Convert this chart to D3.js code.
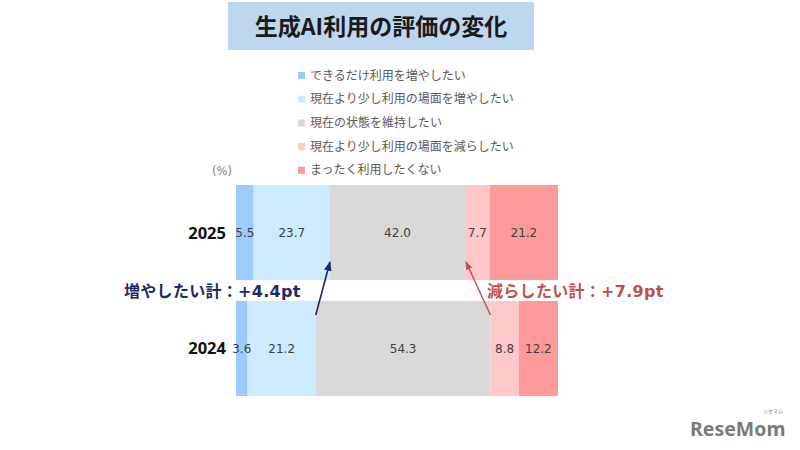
<!DOCTYPE html>
<html><head><meta charset="utf-8">
<script src="https://cdn.jsdelivr.net/npm/d3@7"></script>
<style>body{margin:0;background:#fff}svg{display:block}</style>
</head><body><svg id="c" width="800" height="450" font-family="'DejaVu Sans','Noto Sans CJK JP',sans-serif"></svg>
<script>
const years = ["2025", "2024"];
const categories = ["できるだけ利用を増やしたい","現在より少し利用の場面を増やしたい","現在の状態を維持したい","現在より少し利用の場面を減らしたい","まったく利用したくない"];
const values2025 = [5.5, 23.7, 42.0, 7.7, 21.2];
const values2024 = [3.6, 21.2, 54.3, 8.8, 12.2];
const colors = ["#9ecbfd","#cdeafe","#d9d9d9","#fec8c8","#fe9a9a"];
const annotations = ["増やしたい計：+4.4pt","減らしたい計：+7.9pt"];

const svg = d3.select("#c");
const seriesByYear = {"2025": values2025, "2024": values2024};
const cjk = "'Noto Sans CJK JP',sans-serif";

// title
svg.append("rect").attr("x",228).attr("y",2).attr("width",306).attr("height",48).attr("fill","#bdd7ee");
svg.append("text").attr("x",381).attr("y",35).attr("text-anchor","middle").attr("font-family",cjk)
  .attr("font-size",23).attr("font-weight","bold").attr("fill","#1a1a1a").text("生成AI利用の評価の変化");

// legend
const lg = svg.append("g");
categories.forEach((c,i)=>{
  const y = 75 + i*23.7;
  lg.append("rect").attr("x",298).attr("y",y-3).attr("width",7).attr("height",7).attr("fill",colors[i]);
  lg.append("text").attr("x",310).attr("y",y+4.5).attr("font-size",12).attr("font-family",cjk).attr("fill","#595959").text(c);
});

const x = d3.scaleLinear().domain([0,100.1]).range([236,558]);
const y = d3.scaleBand().domain(years).range([185,396]).paddingInner(0.18).paddingOuter(0);

svg.append("text").attr("x",232).attr("y",175).attr("text-anchor","end").attr("font-size",11.5).attr("fill","#7f7f7f").text("(%)");

years.forEach(yr=>{
  const vals = seriesByYear[yr];
  let cum = 0;
  const segs = vals.map((v,i)=>{const s={v,i,x0:cum,x1:cum+v}; cum+=v; return s;});
  const g = svg.append("g");
  g.selectAll("rect").data(segs).join("rect")
    .attr("x",d=>x(d.x0)).attr("width",d=>x(d.x1)-x(d.x0))
    .attr("y",y(yr)).attr("height",y.bandwidth())
    .attr("fill",d=>colors[d.i]);
  g.selectAll("text").data(segs).join("text")
    .attr("x",d=>(x(d.x0)+x(d.x1))/2).attr("y",y(yr)+y.bandwidth()/2+4.5)
    .attr("text-anchor","middle").attr("font-size",12).attr("fill","#404040")
    .text(d=>d.v.toFixed(1));
  svg.append("text").attr("x",226).attr("y",y(yr)+y.bandwidth()/2+6)
    .attr("text-anchor","end").attr("font-size",16.5).attr("font-weight","bold").attr("fill","#111")
    .attr("font-family","'Noto Sans',sans-serif").text(yr);
});

// annotation band
const bandTop = y("2025")+y.bandwidth(), bandBot = y("2024");
svg.append("text").attr("x",124).attr("y",(bandTop+bandBot)/2+6).attr("font-size",16).attr("font-weight","bold")
  .attr("letter-spacing",0.3).attr("fill","#1c2a66").text(annotations[0]);
svg.append("text").attr("x",487).attr("y",(bandTop+bandBot)/2+6).attr("font-size",16).attr("font-weight","bold")
  .attr("letter-spacing",0.3).attr("fill","#c0504d").text(annotations[1]);

// arrows
const defs = svg.append("defs");
function marker(id,col){
  defs.append("marker").attr("id",id).attr("viewBox","0 0 10 10").attr("refX",9).attr("refY",5)
   .attr("markerWidth",6).attr("markerHeight",6).attr("orient","auto")
   .append("path").attr("d","M0,1 L10,5 L0,9 z").attr("fill",col);
}
marker("ab","#1c2a66"); marker("ar","#c0504d");
const c25 = d3.cumsum(values2025), c24 = d3.cumsum(values2024);
svg.append("line").attr("x1",x(c24[1])).attr("y1",bandBot+14).attr("x2",x(c25[1])).attr("y2",bandTop-18)
  .attr("stroke","#1c2a66").attr("stroke-width",1.6).attr("marker-end","url(#ab)");
svg.append("line").attr("x1",x(c24[2])).attr("y1",bandBot+14).attr("x2",x(c25[2])+1).attr("y2",bandTop-18)
  .attr("stroke","#c0504d").attr("stroke-width",1.4).attr("marker-end","url(#ar)");

// logo
svg.append("text").attr("x",690).attr("y",436).attr("font-size",19.5).attr("font-weight","bold")
  .attr("fill","#7a7a7a").attr("font-family","'Noto Sans',sans-serif").text("ReseMom");
svg.append("text").attr("x",763).attr("y",413).attr("font-size",5).attr("font-family",cjk).attr("fill","#7a7a7a").text("リセマム");
</script></body></html>
